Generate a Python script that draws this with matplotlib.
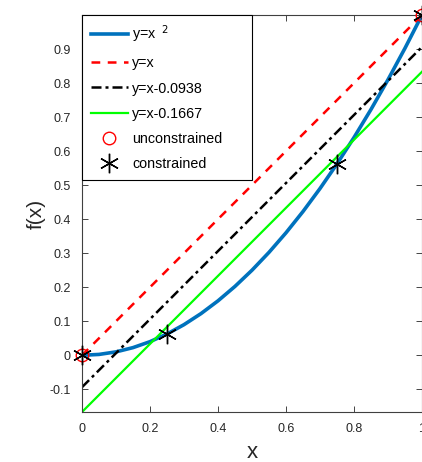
import numpy as np
import matplotlib.pyplot as plt

# ==== Data ====
x_curve = [0, 0.05, 0.1, 0.15, 0.2, 0.25, 0.3, 0.35, 0.4, 0.45, 0.5,
           0.55, 0.6, 0.65, 0.7, 0.75, 0.8, 0.85, 0.9, 0.95, 1.0]
y_curve = [0, 0.0025, 0.01, 0.0225, 0.04, 0.0625, 0.09, 0.1225, 0.16, 0.2025, 0.25,
           0.3025, 0.36, 0.4225, 0.49, 0.5625, 0.64, 0.7225, 0.81, 0.9025, 1.0]
x_line = [0, 1]
y_ident = [0, 1]
y_shift1 = [-0.0938, 0.9062]
y_shift2 = [-0.1667, 0.8333]
x_unc = [0, 1]
y_unc = [0, 1]
x_con = [0, 0.25, 0.75, 1]
y_con = [0, 0.0625, 0.5625, 1]

xticks = [0, 0.2, 0.4, 0.6, 0.8, 1]
xlabels = ['0', '0.2', '0.4', '0.6', '0.8', '1']
yticks = [-0.1, 0, 0.1, 0.2, 0.3, 0.4, 0.5, 0.6, 0.7, 0.8, 0.9]
ylabels = ['-0.1', '0', '0.1', '0.2', '0.3', '0.4', '0.5', '0.6', '0.7', '0.8', '0.9']

plt.rcParams['font.family'] = ['Liberation Sans', 'DejaVu Sans']

fig = plt.figure(figsize=(4.22, 4.62), dpi=100)
ax = fig.add_axes([82 / 422, 50 / 462, 340 / 422, 397 / 462])

asterisk = (6, 2, 0)
ax.plot(x_curve, y_curve, color='#0072BD', lw=2.6, label=r'y=x$^{\ \ 2}$')
ax.plot(x_line, y_ident, color='red', lw=1.8, ls=(0, (3.5, 3)), label='y=x')
ax.plot(x_line, y_shift1, color='black', lw=1.8, ls=(0, (4, 1.6, 1.2, 1.6)), label='y=x-0.0938')
ax.plot(x_line, y_shift2, color='#00FF00', lw=1.6, label='y=x-0.1667')
ax.plot(x_unc, y_unc, 'o', mfc='none', mec='red', ms=9, mew=1.0, label='unconstrained',
        clip_on=False, zorder=5)
ax.plot(x_con, y_con, ls='none', marker=asterisk, color='black', ms=14, mew=1.0,
        label='constrained', clip_on=False, zorder=6)

ax.set_xlim(0, 1)
ax.set_ylim(-0.1667, 1)
ax.set_xticks(xticks)
ax.set_xticklabels(xlabels)
ax.set_yticks(yticks)
ax.set_yticklabels(ylabels)
ax.tick_params(direction='in', top=True, right=True, length=4, width=0.6,
               labelsize=9, colors='#262626', pad=8)
for s in ax.spines.values():
    s.set_color('#404040')
    s.set_linewidth(0.8)

ax.set_xlabel('x', fontsize=16, color='#262626', labelpad=5)
ax.set_ylabel('f(x)', fontsize=15, color='#262626', labelpad=3)

leg = ax.legend(loc='upper left', bbox_to_anchor=(0, 0, 0.5, 1), mode='expand',
                fontsize=10.3, frameon=True, fancybox=False,
                edgecolor='black', framealpha=1, borderaxespad=0,
                handlelength=2.6, labelspacing=0.78, handletextpad=0.3,
                borderpad=0.6)
leg.get_frame().set_linewidth(0.8)

plt.savefig('out.png', dpi=100)
